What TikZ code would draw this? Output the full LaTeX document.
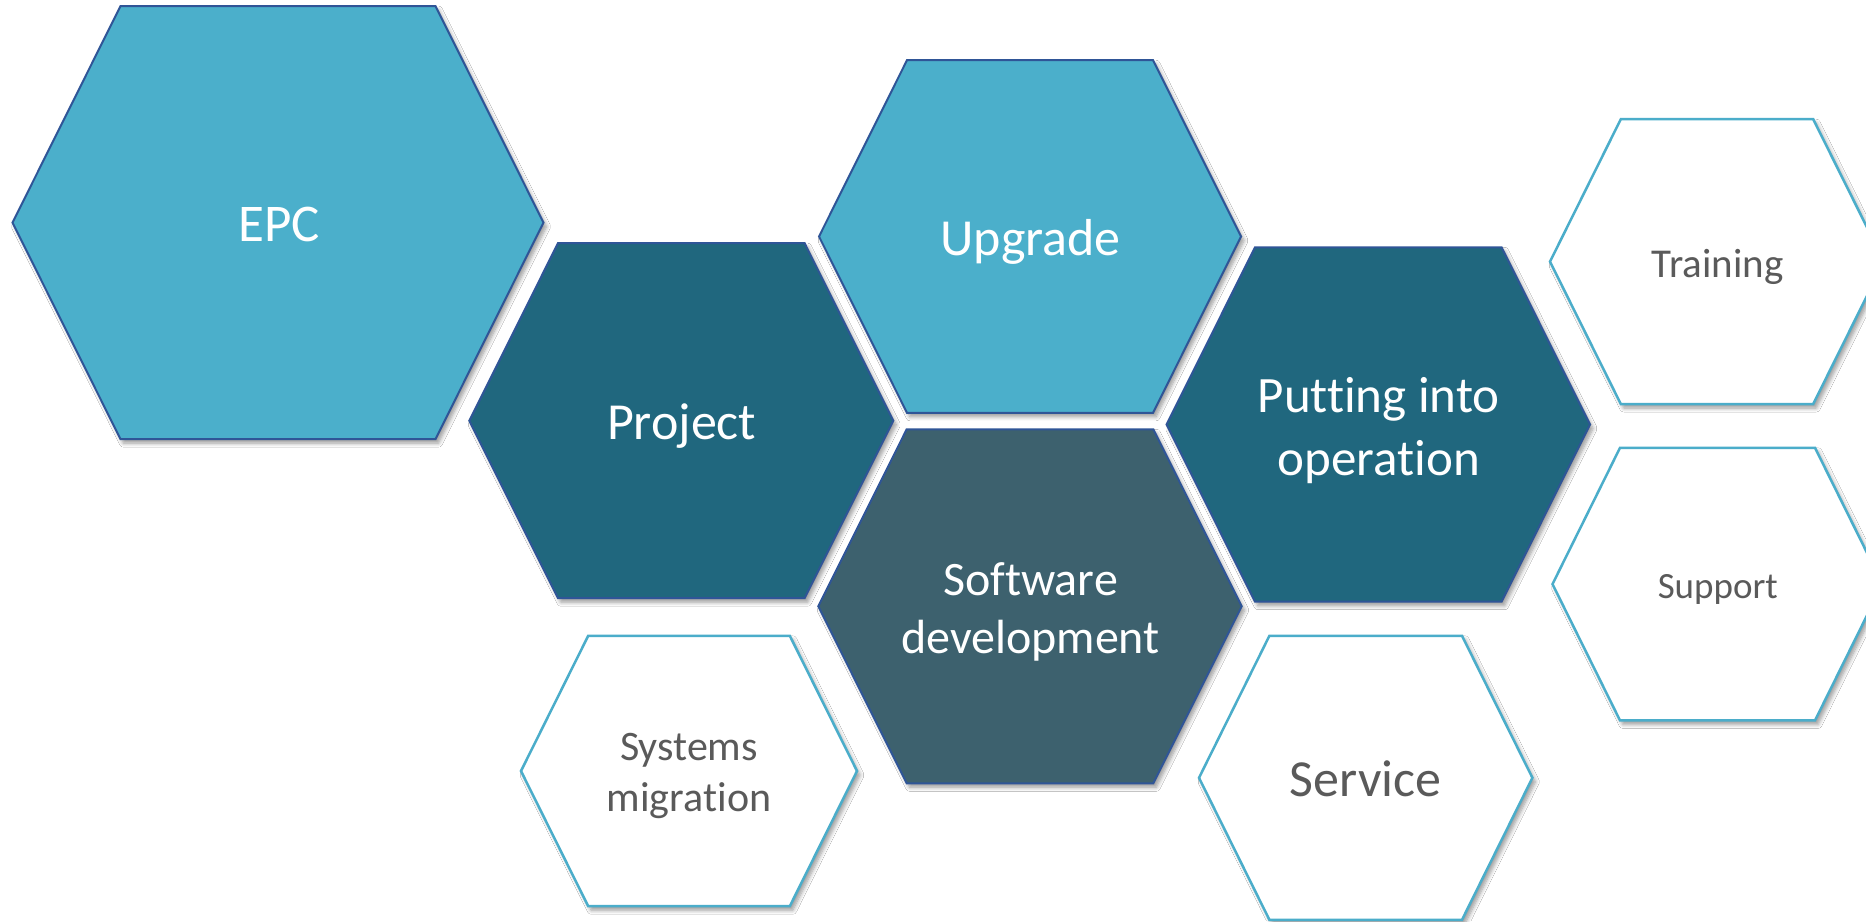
\documentclass[tikz,border=0pt]{standalone}
\usepackage{fontspec}
\setmainfont[Ligatures=NoCommon]{Carlito}
\usetikzlibrary{shadows.blur}
\definecolor{lightblue}{HTML}{4BAFCB}
\definecolor{darkteal}{HTML}{20677E}
\definecolor{slateteal}{HTML}{3D616E}
\definecolor{hexborder}{HTML}{2F5597}
\definecolor{outlineblue}{HTML}{4BADCA}
\definecolor{txtgray}{HTML}{5A5A5A}
\tikzset{
  hexshadow/.style={blur shadow={shadow xshift=3pt, shadow yshift=-4pt, shadow blur steps=6, shadow blur radius=4pt, shadow opacity=40}},
  lighthex/.style={fill=lightblue, draw=hexborder, line width=2pt, line join=miter, hexshadow},
  darkhex/.style={fill=darkteal, draw=hexborder, line width=2pt, line join=miter, hexshadow},
  slatehex/.style={fill=slateteal, draw=hexborder, line width=2pt, line join=miter, hexshadow},
  openhex/.style={fill=white, draw=outlineblue, line width=2.5pt, line join=miter, hexshadow},
  whitetxt/.style={text=white, align=center, inner sep=0pt, anchor=base},
  graytxt/.style={text=txtgray, align=center, inner sep=0pt, anchor=base},
}
% #1 name, #2 style, #3 cx, #4 cy, #5 half width, #6 half height, #7 half top width
\newcommand\hexa[7]{%
  \path[#2] ({#3-#5},{#4}) -- ({#3-#7},{#4-#6}) -- ({#3+#7},{#4-#6}) -- ({#3+#5},{#4}) -- ({#3+#7},{#4+#6}) -- ({#3-#7},{#4+#6}) -- cycle;
  \coordinate (#1) at (#3,#4);
}
\begin{document}
\begin{tikzpicture}[x=1pt,y=-1pt]
\useasboundingbox[fill=white] (0,0) rectangle (1866,921);
\begin{scope}
\clip (0,0) rectangle (1866,921);
\hexa{epc}{lighthex}{278}{222.6}{265.5}{216.5}{157.5}
\hexa{project}{darkhex}{681.3}{420.7}{212}{177.5}{123.3}
\hexa{upgrade}{lighthex}{1030}{236.5}{211}{176.3}{123}
\hexa{putting}{darkhex}{1378.3}{424.5}{211.7}{177.2}{123.3}
\hexa{software}{slatehex}{1030}{606.3}{211.7}{177}{123.3}
\hexa{training}{openhex}{1717}{261.6}{167}{142.4}{96.2}
\hexa{support}{openhex}{1717.5}{584.1}{165}{136.3}{97.5}
\hexa{systems}{openhex}{689}{771}{168}{135.2}{100.8}
\hexa{service}{openhex}{1365.7}{777.8}{166.7}{142}{96.3}
\end{scope}
\node[whitetxt, font=\fontsize{53}{64}\selectfont] (epct) at (279,241.7) {EPC};
\node[whitetxt, font=\fontsize{52}{63}\selectfont] (projectt) at (681.7,439) {Project};
\node[whitetxt, font=\fontsize{52}{63}\selectfont] (upgradet) at (1030.5,255) {Upgrade};
\node[whitetxt, font=\fontsize{51}{63}\selectfont] (puttingt) at (1378.7,475) {Putting into\\operation};
\node[whitetxt, font=\fontsize{48}{58}\selectfont] (softwaret) at (1030.5,653.3) {Software\\development};
\node[graytxt, font=\fontsize{41}{50}\selectfont] (trainingt) at (1717.5,277.6) {Training};
\node[graytxt, font=\fontsize{37}{45}\selectfont] (supportt) at (1717.8,598) {Support};
\node[graytxt, font=\fontsize{42}{51.7}\selectfont] (systemst) at (689,811.7) {Systems\\migration};
\node[graytxt, font=\fontsize{52}{63}\selectfont] (servicet) at (1365.5,796) {Service};
\end{tikzpicture}
\end{document}
